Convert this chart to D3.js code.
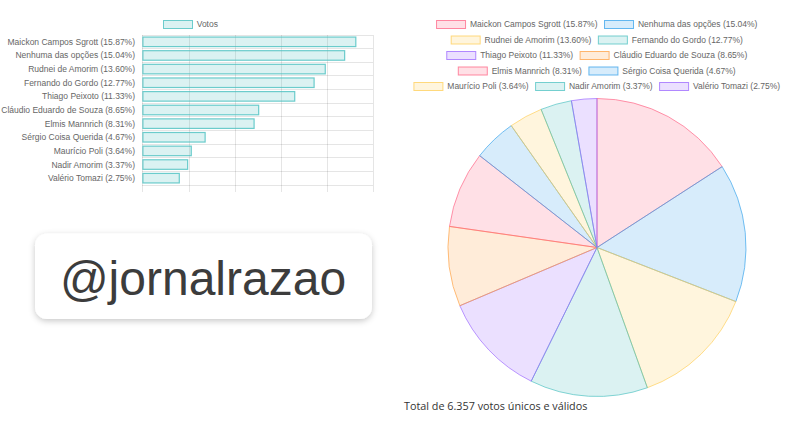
<!DOCTYPE html>
<html>
<head>
<meta charset="utf-8">
<script src="https://cdn.jsdelivr.net/npm/d3@7"></script>
<style>
  body { margin: 0; background: #fff; }
  svg { display: block; }
  .lbl { font-family: "Liberation Sans", Arial, sans-serif; font-size: 8.5px; fill: #666; }
  .grid line, .grid path { stroke: rgba(0,0,0,0.1); shape-rendering: crispEdges; }
</style>
</head>
<body>
<svg id="chart" width="800" height="428"></svg>
<script>
  var names = [ "Maickon Campos Sgrott", "Nenhuma das opções", "Rudnei de Amorim", "Fernando do Gordo",
                "Thiago Peixoto", "Cláudio Eduardo de Souza", "Elmis Mannrich", "Sérgio Coisa Querida",
                "Maurício Poli", "Nadir Amorim", "Valério Tomazi" ];
  var percents = [ 15.87, 15.04, 13.60, 12.77, 11.33, 8.65, 8.31, 4.67, 3.64, 3.37, 2.75 ];
  var seriesName = "Votos";
  var totalText = "Total de 6.357 votos únicos e válidos";
  var watermark = "@jornalrazao";

  // classic chart palette, fill at 0.2 and border full
  var palette = [ [255,99,132], [54,162,235], [255,206,86], [75,192,192], [153,102,255], [255,159,64] ];
  function fillCol( i ) { var c = palette[ i % palette.length ]; return "rgba(" + c.join( "," ) + ",0.2)"; }
  function lineCol( i ) { var c = palette[ i % palette.length ]; return "rgba(" + c.join( "," ) + ",0.75)"; }

  var labels = names.map( function( n , i ) { return n + " (" + percents[i].toFixed( 2 ) + "%)"; } );
  var svg = d3.select( "#chart" );

  // ---- bar chart ----
  var x = d3.scaleLinear().domain( [ 0 , 17.17 ] ).range( [ 142.3 , 373.3 ] );
  var y = d3.scaleBand().domain( labels ).range( [ 35 , 185 ] ).paddingInner( 0.3 ).paddingOuter( 0.15 );
  var yGrid = d3.scaleBand().domain( labels ).range( [ 35 , 185 ] );

  var bar = svg.append( "g" );

  bar.append( "g" ).attr( "class" , "grid" )
     .attr( "transform" , "translate(0,185)" )
     .call( d3.axisBottom( x ).tickValues( d3.range( 0 , 6 ).map( function( k ) { return k * 17.17 / 5; } ) )
              .tickSizeOuter( 0 ).tickFormat( "" ) )
     .call( function( g ) { g.select( ".domain" ).remove(); } )
     .selectAll( ".tick line" ).attr( "y2" , 7 ).attr( "y1" , -150 );

  bar.append( "g" ).attr( "class" , "grid" )
     .selectAll( "line" ).data( labels.concat( [ null ] ) ).enter().append( "line" )
     .attr( "x1" , 142.3 ).attr( "x2" , 373.3 )
     .attr( "y1" , function( d ) { return d === null ? 185 : yGrid( d ); } )
     .attr( "y2" , function( d ) { return d === null ? 185 : yGrid( d ); } );

  bar.append( "g" ).selectAll( "rect" ).data( percents ).enter().append( "rect" )
     .attr( "x" , x( 0 ) + 0.6 )
     .attr( "y" , function( d , i ) { return y( labels[i] ); } )
     .attr( "width" , function( d ) { return x( d ) - x( 0 ) - 0.6; } )
     .attr( "height" , y.bandwidth() )
     .attr( "fill" , "rgba(75,192,192,0.2)" )
     .attr( "stroke" , "rgba(75,192,192,0.8)" )
     .attr( "stroke-width" , 1.2 );

  bar.append( "g" ).selectAll( "text" ).data( labels ).enter().append( "text" )
     .attr( "class" , "lbl" )
     .attr( "x" , 135 )
     .attr( "y" , function( d ) { return yGrid( d ) + yGrid.bandwidth() / 2; } )
     .attr( "dy" , "0.35em" )
     .attr( "text-anchor" , "end" )
     .text( function( d ) { return d; } );

  var bl = bar.append( "g" );
  bl.append( "rect" ).attr( "x" , 163.5 ).attr( "y" , 20.5 ).attr( "width" , 29 ).attr( "height" , 8 )
    .attr( "fill" , "rgba(75,192,192,0.2)" ).attr( "stroke" , "rgba(75,192,192,0.8)" );
  bl.append( "text" ).attr( "class" , "lbl" ).attr( "x" , 196.7 ).attr( "y" , 24.5 ).attr( "dy" , "0.35em" ).text( seriesName );

  // ---- pie chart ----
  var cx = 597, cy = 247.5, r = 149;
  var pie = d3.pie().sort( null ).value( function( d ) { return d; } );
  var arc = d3.arc().innerRadius( 0 ).outerRadius( r );

  svg.append( "g" ).attr( "transform" , "translate(" + cx + "," + cy + ")" )
     .selectAll( "path" ).data( pie( percents ) ).enter().append( "path" )
     .attr( "d" , arc )
     .attr( "fill" , function( d , i ) { return fillCol( i ); } )
     .attr( "stroke" , function( d , i ) { return lineCol( i ); } )
     .attr( "stroke-width" , 0.9 );

  // legend, wrapped into centred rows like the original
  var leg = svg.append( "g" );
  var boxW = 29, gapT = 4.4, itemPad = 7, maxW = 380, rowH = 15.5, legTop = 24.5;
  var meas = leg.append( "text" ).attr( "class" , "lbl" );
  var items = labels.map( function( l , i ) {
    meas.text( l );
    return { i : i, label : l, w : boxW + gapT + meas.node().getComputedTextLength() };
  } );
  meas.remove();
  var rows = [ [] ], rowW = [ 0 ];
  items.forEach( function( it ) {
    var k = rows.length - 1;
    var add = ( rows[k].length ? itemPad : 0 ) + it.w;
    if( rows[k].length && rowW[k] + add > maxW ) { rows.push( [ it ] ); rowW.push( it.w ); }
    else { rows[k].push( it ); rowW[k] += add; }
  } );
  rows.forEach( function( row , k ) {
    var xx = cx - rowW[k] / 2, yy = legTop + k * rowH;
    row.forEach( function( it ) {
      leg.append( "rect" ).attr( "x" , xx ).attr( "y" , yy - 4 ).attr( "width" , boxW ).attr( "height" , 8 )
         .attr( "fill" , fillCol( it.i ) ).attr( "stroke" , lineCol( it.i ) );
      leg.append( "text" ).attr( "class" , "lbl" ).attr( "x" , xx + boxW + gapT ).attr( "y" , yy ).attr( "dy" , "0.35em" ).text( it.label );
      xx += it.w + itemPad;
    } );
  } );

  svg.append( "text" ).attr( "x" , 404 ).attr( "y" , 409.5 )
     .style( "font-family" , "'Open Sans', 'Noto Sans', sans-serif" ).style( "font-size" , "10.8px" ).style( "fill" , "#333" )
     .text( totalText );

  // ---- watermark card ----
  var defs = svg.append( "defs" );
  var f = defs.append( "filter" ).attr( "id" , "sh" ).attr( "x" , "-20%" ).attr( "y" , "-30%" ).attr( "width" , "140%" ).attr( "height" , "160%" );
  f.append( "feDropShadow" ).attr( "dx" , 0 ).attr( "dy" , 2 ).attr( "stdDeviation" , 3 ).attr( "flood-color" , "#000" ).attr( "flood-opacity" , 0.22 );
  svg.append( "rect" ).attr( "x" , 35 ).attr( "y" , 233.5 ).attr( "width" , 337 ).attr( "height" , 85.5 ).attr( "rx" , 12 )
     .attr( "fill" , "#fff" ).attr( "filter" , "url(#sh)" );
  svg.append( "text" ).attr( "x" , 203 ).attr( "y" , 295 ).attr( "text-anchor" , "middle" )
     .style( "font-family" , "'Liberation Sans', Arial, sans-serif" ).style( "font-size" , "48px" ).style( "fill" , "#3c3c3c" )
     .text( watermark );
</script>
</body>
</html>
